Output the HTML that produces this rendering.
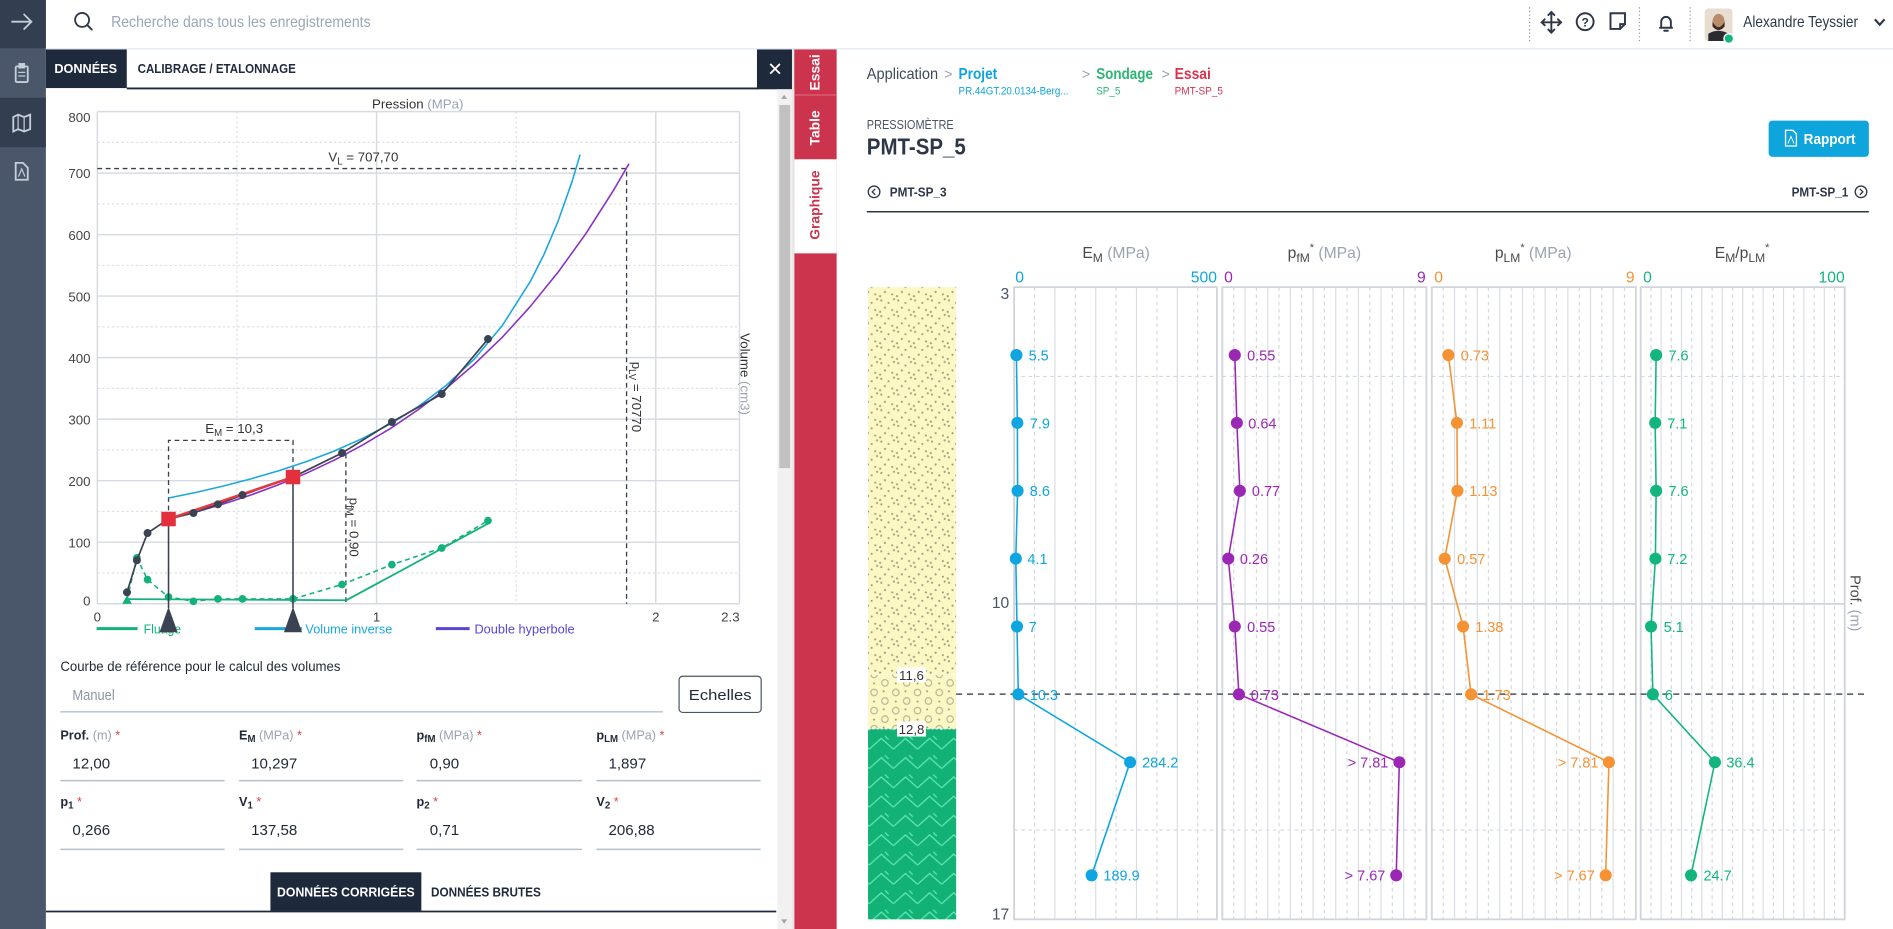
<!DOCTYPE html>
<html><head><meta charset="utf-8"><style>
html,body{margin:0;padding:0;width:1893px;height:929px;overflow:hidden;background:#fff}
svg{display:block}
</style></head><body>
<svg xmlns="http://www.w3.org/2000/svg" width="1893" height="929" viewBox="0 0 1568 770" preserveAspectRatio="none" font-family="'Liberation Sans', Arial, sans-serif">
<defs>
<pattern id="sand" width="14" height="13" patternUnits="userSpaceOnUse">
<rect width="14" height="13" fill="#fcf8c4"/>
<g fill="#a19f83"><circle cx="2" cy="2" r="0.9"/><circle cx="8" cy="4" r="0.9"/><circle cx="12.5" cy="1" r="0.9"/><circle cx="5" cy="8" r="0.9"/><circle cx="11" cy="10" r="0.9"/><circle cx="1" cy="11.5" r="0.9"/></g>
</pattern>
<pattern id="gravel" width="18" height="15" patternUnits="userSpaceOnUse">
<rect width="18" height="15" fill="#fcf8c4"/>
<g fill="none" stroke="#b3b095" stroke-width="0.9"><circle cx="4" cy="4" r="2.7"/><circle cx="13" cy="11" r="2.7"/></g>
<g fill="#a19f83"><circle cx="12" cy="3" r="0.85"/><circle cx="4" cy="11.5" r="0.85"/></g>
</pattern>
<pattern id="grn" width="20" height="16" patternUnits="userSpaceOnUse">
<rect width="20" height="16" fill="#12b277"/>
<polyline points="0,13 10,4 20,13" fill="none" stroke="#62e6b8" stroke-width="1"/>
<line x1="13" y1="2" x2="16" y2="5" stroke="#62e6b8" stroke-width="1"/>
</pattern>
</defs>

<rect x="0" y="0" width="1568" height="770" fill="#fff"/>

<!-- Sidebar -->
<rect x="0" y="0" width="38" height="770" fill="#4a566a"/>
<rect x="0" y="0" width="38" height="40" fill="#333f50"/>
<rect x="0" y="81" width="38" height="41" fill="#333f50"/>
<g stroke="#c6ced9" stroke-width="1.5" fill="none" stroke-linecap="round">
<line x1="10" y1="18" x2="26" y2="18"/><polyline points="20,12 26,18 20,24"/>
<rect x="13" y="55" width="10" height="13" rx="1"/><rect x="16" y="53" width="4" height="3" fill="#c6ced9"/>
<line x1="15.5" y1="60" x2="20.5" y2="60" stroke-width="1"/><line x1="15.5" y1="63" x2="20.5" y2="63" stroke-width="1"/>
<polygon points="11,97 15,95 20,97 25,95 25,107 20,109 15,107 11,109"/><line x1="15" y1="95" x2="15" y2="107" stroke-width="1"/><line x1="20" y1="97" x2="20" y2="109" stroke-width="1"/>
<path d="M13 135 h6 l4 4 v10 h-10 z"/><path d="M15.5 146 l2.5-6 l2.5 6" stroke-width="1"/>
</g>

<!-- Top bar -->
<line x1="38" y1="40.5" x2="1568" y2="40.5" stroke="#e2e8f0" stroke-width="1"/>
<circle cx="68" cy="16.5" r="5.8" fill="none" stroke="#2d3748" stroke-width="1.5"/>
<line x1="72.3" y1="20.8" x2="76" y2="24.5" stroke="#2d3748" stroke-width="1.6" stroke-linecap="round"/>
<text x="92" y="22.5" font-size="13" fill="#9ba6b7" textLength="215" lengthAdjust="spacingAndGlyphs">Recherche dans tous les enregistrements</text>
<g stroke="#8a94a6" stroke-width="1" stroke-dasharray="1,2">
<line x1="1267" y1="6" x2="1267" y2="34"/><line x1="1358" y1="6" x2="1358" y2="34"/><line x1="1400" y1="6" x2="1400" y2="34"/>
</g>
<g stroke="#2d3748" stroke-width="1.6" fill="none" stroke-linecap="round">
<line x1="1285" y1="10" x2="1285" y2="27"/><line x1="1277" y1="18.5" x2="1293" y2="18.5"/>
<polyline points="1282.5,12.5 1285,10 1287.5,12.5"/><polyline points="1282.5,24.5 1285,27 1287.5,24.5"/>
<polyline points="1279.5,16 1277,18.5 1279.5,21"/><polyline points="1290.5,16 1293,18.5 1290.5,21"/>
<circle cx="1313" cy="18" r="7"/>
<path d="M1334 11 h12 v9 l-4 4 h-8 z"/><path d="M1346 20 h-4 v4"/>
<path d="M1375 23 h10 M1376 23 v-5 a4 4 0 0 1 8 0 v5 M1378.5 25.5 h3"/>
</g>
<text x="1313" y="22" font-size="10" font-weight="bold" fill="#2d3748" text-anchor="middle">?</text>
<rect x="1412" y="7" width="23" height="27" rx="3" fill="#e7ddd0"/>
<path d="M1415 34 v-6 q8-5 17 0 v6 z" fill="#2a2a30"/>
<ellipse cx="1423.5" cy="18" rx="5" ry="6.5" fill="#b98c6a"/>
<path d="M1418.5 18 q5 9 10 0 v4 q-5 6-10 0 z" fill="#3a2a20"/>
<circle cx="1432" cy="32" r="4" fill="#12b57e" stroke="#fff" stroke-width="1.2"/>
<text x="1444" y="22.5" font-size="13" fill="#2d3748" textLength="95" lengthAdjust="spacingAndGlyphs">Alexandre Teyssier</text>
<polyline points="1553,16 1557,20.5 1561,16" fill="none" stroke="#2d3748" stroke-width="1.8"/>

<!-- Left panel tabs -->
<rect x="38" y="41" width="67" height="32" fill="#1e293b"/>
<text x="45" y="60.5" font-size="11" font-weight="bold" fill="#fff" textLength="52" lengthAdjust="spacingAndGlyphs">DONNÉES</text>
<text x="114" y="60.5" font-size="11" font-weight="bold" fill="#1e293b" textLength="131" lengthAdjust="spacingAndGlyphs">CALIBRAGE / ETALONNAGE</text>
<line x1="105" y1="73.3" x2="628" y2="73.3" stroke="#1e293b" stroke-width="1.5"/>
<rect x="627" y="41" width="31" height="33" fill="#1e293b"/>
<g stroke="#fff" stroke-width="1.5"><line x1="638" y1="53" x2="646" y2="61"/><line x1="646" y1="53" x2="638" y2="61"/></g>

<!-- scrollbar -->
<rect x="644" y="74" width="12" height="696" fill="#f1f1f1"/>
<rect x="645.5" y="87" width="9" height="301" fill="#c1c1c1"/>
<polygon points="647,82 652,82 649.5,78.5" fill="#a3a3a3"/>
<polygon points="647,762 652,762 649.5,765.5" fill="#a3a3a3"/>
<rect x="656" y="41" width="2" height="729" fill="#e8e8e8"/>

<!-- Red side tabs -->
<rect x="658" y="41" width="35" height="729" fill="#cc344d"/>
<rect x="658" y="78" width="35" height="1.5" fill="#d8556b"/>
<rect x="658" y="132" width="35" height="78" fill="#fff"/>
<text transform="translate(679,60) rotate(-90)" font-size="11.5" font-weight="bold" fill="#fff" text-anchor="middle">Essai</text>
<text transform="translate(679,106) rotate(-90)" font-size="11.5" font-weight="bold" fill="#fff" text-anchor="middle">Table</text>
<text transform="translate(679,170) rotate(-90)" font-size="11.5" font-weight="bold" fill="#cc344d" text-anchor="middle">Graphique</text>

<!-- ===== Left chart ===== -->
<g stroke="#dde1e7" stroke-width="1" stroke-dasharray="2,2">
<line x1="80.6" y1="474.9" x2="612.5" y2="474.9"/><line x1="80.6" y1="423.9" x2="612.5" y2="423.9"/>
<line x1="80.6" y1="372.9" x2="612.5" y2="372.9"/><line x1="80.6" y1="321.9" x2="612.5" y2="321.9"/>
<line x1="80.6" y1="270.9" x2="612.5" y2="270.9"/><line x1="80.6" y1="220" x2="612.5" y2="220"/>
<line x1="80.6" y1="169" x2="612.5" y2="169"/><line x1="80.6" y1="118" x2="612.5" y2="118"/>
<line x1="196.3" y1="92.5" x2="196.3" y2="500.4"/><line x1="427.6" y1="92.5" x2="427.6" y2="500.4"/>
</g>
<g stroke="#d6dae1" stroke-width="1.2">
<line x1="80.6" y1="449.4" x2="612.5" y2="449.4"/><line x1="80.6" y1="398.4" x2="612.5" y2="398.4"/>
<line x1="80.6" y1="347.4" x2="612.5" y2="347.4"/><line x1="80.6" y1="296.4" x2="612.5" y2="296.4"/>
<line x1="80.6" y1="245.4" x2="612.5" y2="245.4"/><line x1="80.6" y1="194.5" x2="612.5" y2="194.5"/>
<line x1="80.6" y1="143.5" x2="612.5" y2="143.5"/><line x1="80.6" y1="92.5" x2="612.5" y2="92.5"/>
<line x1="80.6" y1="500.4" x2="612.5" y2="500.4"/>
<line x1="80.6" y1="92.5" x2="80.6" y2="500.4"/><line x1="311.9" y1="92.5" x2="311.9" y2="500.4"/>
<line x1="543.2" y1="92.5" x2="543.2" y2="500.4"/><line x1="612.5" y1="92.5" x2="612.5" y2="500.4"/>
</g>
<g font-size="11" fill="#444" text-anchor="end">
<text x="75" y="101">800</text><text x="75" y="147.5">700</text><text x="75" y="199">600</text>
<text x="75" y="250">500</text><text x="75" y="301">400</text><text x="75" y="352">300</text>
<text x="75" y="403">200</text><text x="75" y="454">100</text><text x="75" y="502">0</text>
</g>
<g font-size="11" fill="#444" text-anchor="middle">
<text x="80.6" y="515">0</text><text x="311.9" y="515">1</text><text x="543.2" y="515">2</text><text x="605" y="515">2.3</text>
</g>
<text x="346" y="90" font-size="11" fill="#333" text-anchor="middle">Pression<tspan fill="#9aa3b2"> (MPa)</tspan></text>
<text transform="translate(613.5,310) rotate(90)" font-size="11" fill="#333" text-anchor="middle">Volume<tspan fill="#9aa3b2"> (cm3)</tspan></text>

<!-- annotation dashed -->
<g stroke="#3a3f4a" stroke-width="1.1" stroke-dasharray="4,3" fill="none">
<polyline points="80.6,139.7 519,139.7 519,500.4"/>
<polyline points="139.6,430 139.6,365 242.7,365 242.7,395"/>
<line x1="286.5" y1="376" x2="286.5" y2="500.4"/>
</g>
<text x="272" y="134" font-size="11" fill="#333">V<tspan dy="2.5" font-size="8">L</tspan><tspan dy="-2.5"> = 707,70</tspan></text>
<text x="170" y="359" font-size="11" fill="#333">E<tspan dy="2.5" font-size="8">M</tspan><tspan dy="-2.5"> = 10,3</tspan></text>
<text transform="translate(523.5,329) rotate(90)" font-size="11" fill="#333" text-anchor="middle">p<tspan dy="2.5" font-size="8">LV</tspan><tspan dy="-2.5"> = 70770</tspan></text>
<text transform="translate(289.5,437) rotate(90)" font-size="11" fill="#333" text-anchor="middle">p<tspan dy="2.5" font-size="8">fM</tspan><tspan dy="-2.5"> = 0,90</tspan></text>

<!-- green fluage -->
<polyline points="105.2,496.6 286.9,497.5 406,433" fill="none" stroke="#14b27a" stroke-width="1.5"/>
<polyline points="105.2,497 113.4,462.4 122.2,480.4 139.6,494.8 160.2,498.4 180.5,496.4 200.8,496.4 242.7,496.4 283.3,484.5 324.6,468 365.9,454.2 404.2,431.5" fill="none" stroke="#14b27a" stroke-width="1.3" stroke-dasharray="4,3"/>
<polygon points="101.2,500.5 105.2,493.5 109.2,500.5" fill="#14b27a"/>
<g fill="#14b27a">
<circle cx="113.4" cy="462.4" r="3.2"/><circle cx="122.2" cy="480.4" r="3.2"/><circle cx="139.6" cy="494.8" r="3.2"/>
<circle cx="160.2" cy="498.4" r="3.2"/><circle cx="180.5" cy="496.4" r="3.2"/><circle cx="200.8" cy="496.4" r="3.2"/>
<circle cx="242.7" cy="496.4" r="3.2"/><circle cx="283.3" cy="484.5" r="3.2"/><circle cx="324.6" cy="468" r="3.2"/>
<circle cx="365.9" cy="454.2" r="3.2"/><circle cx="404.2" cy="431.5" r="3.2"/>
</g>

<!-- blue volume inverse -->
<polyline points="139.6,412.8 161.6,408.3 184.7,402.9 207.8,396.9 230.9,390.2 254.1,382.5 277.2,373.7 300.3,363.4 323.5,351.3 346.6,336.9 369.7,319.3 392.9,297.6 416,269.9 439.1,233.6 450.7,210.7 462.2,183.5 473.8,150.7 480.5,128.2" fill="none" stroke="#1aa7e0" stroke-width="1.3" stroke-linejoin="round"/>
<!-- purple double hyperbole -->
<polyline points="139.6,430.2 161.6,424.6 184.7,417.8 207.8,410.3 230.9,401.7 254.1,392.1 277.2,381.2 300.3,368.9 323.5,355.1 346.6,339.4 369.7,321.8 392.9,301.9 416,279.6 439.1,254.2 462.2,225.7 485.4,193.5 508.5,157.2 521,135.7" fill="none" stroke="#8a2ec4" stroke-width="1.3" stroke-linejoin="round"/>
<!-- black data -->
<polyline points="105.2,490.9 113.4,464.4 122.2,441.8 139.6,430.2 160.2,425.2 180.5,418 200.8,410.3 242.7,395.4 283.3,375.5 324.6,349.8 365.9,326.6 404.2,281" fill="none" stroke="#3b4252" stroke-width="1.4"/>
<line x1="139.6" y1="430.2" x2="242.7" y2="395.4" stroke="#e5373f" stroke-width="2"/>
<g fill="#3b4252">
<circle cx="105.2" cy="490.9" r="3.3"/><circle cx="113.4" cy="464.4" r="3.3"/><circle cx="122.2" cy="441.8" r="3.3"/>
<circle cx="160.2" cy="425.2" r="3.3"/><circle cx="180.5" cy="418" r="3.3"/><circle cx="200.8" cy="410.3" r="3.3"/>
<circle cx="283.3" cy="375.5" r="3.3"/><circle cx="324.6" cy="349.8" r="3.3"/><circle cx="365.9" cy="326.6" r="3.3"/>
<circle cx="404.2" cy="281" r="3.3"/>
</g>
<g stroke="#3b4252" stroke-width="1.3"><line x1="139.6" y1="430" x2="139.6" y2="504"/><line x1="242.7" y1="395" x2="242.7" y2="504"/></g>
<rect x="133.6" y="424.2" width="12" height="12" fill="#e3303c"/>
<rect x="236.7" y="389.4" width="12" height="12" fill="#e3303c"/>

<!-- legend -->
<line x1="80" y1="521" x2="114" y2="521" stroke="#14b27a" stroke-width="2.5"/>
<text x="119" y="525" font-size="11" fill="#14b27a" textLength="31" lengthAdjust="spacingAndGlyphs">Fluage</text>
<line x1="211" y1="521" x2="250" y2="521" stroke="#1aa7e0" stroke-width="2.5"/>
<text x="253" y="525" font-size="11" fill="#1aa7e0" textLength="72" lengthAdjust="spacingAndGlyphs">Volume inverse</text>
<line x1="361" y1="521" x2="389" y2="521" stroke="#5a46d6" stroke-width="2.5"/>
<text x="393" y="525" font-size="11" fill="#5a46d6" textLength="83" lengthAdjust="spacingAndGlyphs">Double hyperbole</text>
<polygon points="139.6,503 132.1,524 147.1,524" fill="#3b4252"/>
<polygon points="242.7,503 235.2,524 250.2,524" fill="#3b4252"/>

<!-- form -->
<text x="50" y="556" font-size="11.5" fill="#1f2937" textLength="232" lengthAdjust="spacingAndGlyphs">Courbe de référence pour le calcul des volumes</text>
<text x="60" y="580" font-size="12.5" fill="#8c96a4" textLength="35" lengthAdjust="spacingAndGlyphs">Manuel</text>
<line x1="50" y1="590" x2="549" y2="590" stroke="#b4bfcc" stroke-width="1.2"/>
<rect x="562.5" y="560.5" width="68" height="30" rx="3" fill="#fff" stroke="#4a5568" stroke-width="1"/>
<text x="596.5" y="580" font-size="12.5" fill="#1f2937" text-anchor="middle" textLength="52" lengthAdjust="spacingAndGlyphs">Echelles</text>

<g font-size="10.5" fill="#1f2937">
<text x="50" y="613"><tspan font-weight="bold">Prof.</tspan><tspan fill="#9aa3b2"> (m)</tspan><tspan fill="#e53e3e"> *</tspan></text>
<text x="198" y="613"><tspan font-weight="bold">E</tspan><tspan font-weight="bold" font-size="8" dy="2">M</tspan><tspan fill="#9aa3b2" dy="-2"> (MPa)</tspan><tspan fill="#e53e3e"> *</tspan></text>
<text x="345" y="613"><tspan font-weight="bold">p</tspan><tspan font-weight="bold" font-size="8" dy="2">fM</tspan><tspan fill="#9aa3b2" dy="-2"> (MPa)</tspan><tspan fill="#e53e3e"> *</tspan></text>
<text x="494" y="613"><tspan font-weight="bold">p</tspan><tspan font-weight="bold" font-size="8" dy="2">LM</tspan><tspan fill="#9aa3b2" dy="-2"> (MPa)</tspan><tspan fill="#e53e3e"> *</tspan></text>
<text x="50" y="668"><tspan font-weight="bold">p</tspan><tspan font-weight="bold" font-size="8" dy="2">1</tspan><tspan fill="#e53e3e" dy="-2"> *</tspan></text>
<text x="198" y="668"><tspan font-weight="bold">V</tspan><tspan font-weight="bold" font-size="8" dy="2">1</tspan><tspan fill="#e53e3e" dy="-2"> *</tspan></text>
<text x="345" y="668"><tspan font-weight="bold">p</tspan><tspan font-weight="bold" font-size="8" dy="2">2</tspan><tspan fill="#e53e3e" dy="-2"> *</tspan></text>
<text x="494" y="668"><tspan font-weight="bold">V</tspan><tspan font-weight="bold" font-size="8" dy="2">2</tspan><tspan fill="#e53e3e" dy="-2"> *</tspan></text>
</g>
<g font-size="12.5" fill="#1f2937">
<text x="60" y="637">12,00</text><text x="208" y="637">10,297</text><text x="356" y="637">0,90</text><text x="504" y="637">1,897</text>
<text x="60" y="692">0,266</text><text x="208" y="692">137,58</text><text x="356" y="692">0,71</text><text x="504" y="692">206,88</text>
</g>
<g stroke="#b4bfcc" stroke-width="1.2">
<line x1="50" y1="647" x2="186" y2="647"/><line x1="198" y1="647" x2="334" y2="647"/><line x1="345" y1="647" x2="482" y2="647"/><line x1="494" y1="647" x2="630" y2="647"/>
<line x1="50" y1="704" x2="186" y2="704"/><line x1="198" y1="704" x2="334" y2="704"/><line x1="345" y1="704" x2="482" y2="704"/><line x1="494" y1="704" x2="630" y2="704"/>
</g>
<rect x="224" y="723" width="125" height="32" fill="#1e293b"/>
<text x="286.5" y="743" font-size="10.5" font-weight="bold" fill="#fff" text-anchor="middle" textLength="114" lengthAdjust="spacingAndGlyphs">DONNÉES CORRIGÉES</text>
<text x="357" y="743" font-size="10.5" font-weight="bold" fill="#1e293b" textLength="91" lengthAdjust="spacingAndGlyphs">DONNÉES BRUTES</text>
<line x1="38" y1="755.5" x2="643" y2="755.5" stroke="#1e293b" stroke-width="1.5"/>

<!-- ===== Right content ===== -->
<text x="718" y="65.5" font-size="13" fill="#3d4a5c" textLength="59" lengthAdjust="spacingAndGlyphs">Application</text>
<text x="782" y="65.5" font-size="12" fill="#9aa3b2">&gt;</text>
<text x="794" y="65.5" font-size="13" font-weight="bold" fill="#0ea5dd" textLength="32" lengthAdjust="spacingAndGlyphs">Projet</text>
<text x="794" y="78.5" font-size="9.5" fill="#0ea5dd" textLength="91" lengthAdjust="spacingAndGlyphs">PR.44GT.20.0134-Berg...</text>
<text x="896" y="65.5" font-size="12" fill="#9aa3b2">&gt;</text>
<text x="908" y="65.5" font-size="13" font-weight="bold" fill="#2bb673" textLength="47" lengthAdjust="spacingAndGlyphs">Sondage</text>
<text x="908" y="78.5" font-size="9.5" fill="#2bb673" textLength="20" lengthAdjust="spacingAndGlyphs">SP_5</text>
<text x="962" y="65.5" font-size="12" fill="#9aa3b2">&gt;</text>
<text x="973" y="65.5" font-size="13" font-weight="bold" fill="#d8344e" textLength="30" lengthAdjust="spacingAndGlyphs">Essai</text>
<text x="973" y="78.5" font-size="9.5" fill="#d8344e" textLength="40" lengthAdjust="spacingAndGlyphs">PMT-SP_5</text>

<text x="718" y="107" font-size="10.5" fill="#4a5568" textLength="72" lengthAdjust="spacingAndGlyphs">PRESSIOMÈTRE</text>
<text x="718" y="128" font-size="19" font-weight="bold" fill="#2d3748" textLength="82" lengthAdjust="spacingAndGlyphs">PMT-SP_5</text>

<rect x="1465" y="100" width="83" height="30" rx="3" fill="#0ea5dc"/>
<path d="M1479 108 h6 l3 3 v10 h-9 z" fill="none" stroke="#fff" stroke-width="1.1"/>
<path d="M1481 119 l2.5-6 l2.5 6" fill="none" stroke="#fff" stroke-width="0.8"/>
<text x="1494" y="119.5" font-size="12.5" font-weight="bold" fill="#fff" textLength="43" lengthAdjust="spacingAndGlyphs">Rapport</text>

<circle cx="724" cy="159" r="4.8" fill="none" stroke="#2d3748" stroke-width="1.1"/>
<polyline points="725,156.5 722.5,159 725,161.5" fill="none" stroke="#2d3748" stroke-width="1.1"/>
<text x="737" y="163" font-size="10.5" font-weight="bold" fill="#2d3748" textLength="47" lengthAdjust="spacingAndGlyphs">PMT-SP_3</text>
<text x="1531" y="163" font-size="10.5" font-weight="bold" fill="#2d3748" text-anchor="end" textLength="47" lengthAdjust="spacingAndGlyphs">PMT-SP_1</text>
<circle cx="1541.5" cy="159" r="4.8" fill="none" stroke="#2d3748" stroke-width="1.1"/>
<polyline points="1540.5,156.5 1543,159 1540.5,161.5" fill="none" stroke="#2d3748" stroke-width="1.1"/>
<line x1="718" y1="175.5" x2="1548" y2="175.5" stroke="#2d3748" stroke-width="1.3"/>

<!-- Column headers -->
<g font-size="13" fill="#4a4a4a" text-anchor="middle">
<text x="924.5" y="214">E<tspan dy="3" font-size="10">M</tspan><tspan dy="-3" fill="#9aa3b2"> (MPa)</tspan></text>
<text x="1097" y="214">p<tspan dy="3" font-size="10">fM</tspan><tspan dy="-9" font-size="9">*</tspan><tspan dy="6" fill="#9aa3b2"> (MPa)</tspan></text>
<text x="1270" y="214">p<tspan dy="3" font-size="10">LM</tspan><tspan dy="-9" font-size="9">*</tspan><tspan dy="6" fill="#9aa3b2"> (MPa)</tspan></text>
<text x="1443" y="214">E<tspan dy="3" font-size="10">M</tspan><tspan dy="-3">/p</tspan><tspan dy="3" font-size="10">LM</tspan><tspan dy="-9" font-size="9">*</tspan></text>
</g>
<g font-size="13">
<text x="841" y="234" fill="#0ea5e0">0</text><text x="1008" y="234" fill="#0ea5e0" text-anchor="end">500</text>
<text x="1014" y="234" fill="#9b27b5">0</text><text x="1181" y="234" fill="#9b27b5" text-anchor="end">9</text>
<text x="1188" y="234" fill="#f59234">0</text><text x="1354" y="234" fill="#f59234" text-anchor="end">9</text>
<text x="1361" y="234" fill="#12b57e">0</text><text x="1528" y="234" fill="#12b57e" text-anchor="end">100</text>
</g>

<!-- soil column -->
<rect x="719" y="238" width="73" height="321" fill="url(#sand)"/>
<rect x="719" y="559" width="73" height="45" fill="url(#gravel)"/>
<rect x="719" y="604" width="73" height="158" fill="url(#grn)"/>
<g stroke="#fff" stroke-width="1" stroke-dasharray="2,1.5"><line x1="719" y1="559" x2="792" y2="559"/><line x1="719" y1="604" x2="792" y2="604"/></g>
<rect x="743" y="553" width="24" height="12.5" fill="#fff"/>
<text x="755" y="563.5" font-size="11" fill="#333" text-anchor="middle">11,6</text>
<rect x="743" y="598" width="24" height="12.5" fill="#fff"/>
<text x="755" y="608.5" font-size="11" fill="#333" text-anchor="middle">12,8</text>

<g font-size="13" fill="#4a5568" text-anchor="end">
<text x="836" y="248">3</text><text x="836" y="504">10</text><text x="836" y="762">17</text>
</g>
<text transform="translate(1533,500) rotate(90)" font-size="12" fill="#4a4a4a" text-anchor="middle">Prof.<tspan fill="#9aa3b2"> (m)</tspan></text>

<!-- grid -->
<g stroke="#d3d7de" stroke-width="1" stroke-dasharray="3,3">
<line x1="856.9" y1="238" x2="856.9" y2="762"/><line x1="890.7" y1="238" x2="890.7" y2="762"/><line x1="924.5" y1="238" x2="924.5" y2="762"/><line x1="958.3" y1="238" x2="958.3" y2="762"/><line x1="992.1" y1="238" x2="992.1" y2="762"/>
<line x1="1021.9" y1="238" x2="1021.9" y2="762"/><line x1="1040.7" y1="238" x2="1040.7" y2="762"/><line x1="1059.4" y1="238" x2="1059.4" y2="762"/><line x1="1078.2" y1="238" x2="1078.2" y2="762"/><line x1="1097" y1="238" x2="1097" y2="762"/><line x1="1115.8" y1="238" x2="1115.8" y2="762"/><line x1="1134.6" y1="238" x2="1134.6" y2="762"/><line x1="1153.3" y1="238" x2="1153.3" y2="762"/><line x1="1172.1" y1="238" x2="1172.1" y2="762"/>
<line x1="1195.4" y1="238" x2="1195.4" y2="762"/><line x1="1214.2" y1="238" x2="1214.2" y2="762"/><line x1="1232.9" y1="238" x2="1232.9" y2="762"/><line x1="1251.7" y1="238" x2="1251.7" y2="762"/><line x1="1270.5" y1="238" x2="1270.5" y2="762"/><line x1="1289.3" y1="238" x2="1289.3" y2="762"/><line x1="1308.1" y1="238" x2="1308.1" y2="762"/><line x1="1326.8" y1="238" x2="1326.8" y2="762"/><line x1="1345.6" y1="238" x2="1345.6" y2="762"/>
<line x1="1367.5" y1="238" x2="1367.5" y2="762"/><line x1="1384.4" y1="238" x2="1384.4" y2="762"/><line x1="1401.3" y1="238" x2="1401.3" y2="762"/><line x1="1418.2" y1="238" x2="1418.2" y2="762"/><line x1="1435.1" y1="238" x2="1435.1" y2="762"/><line x1="1452" y1="238" x2="1452" y2="762"/><line x1="1468.9" y1="238" x2="1468.9" y2="762"/><line x1="1485.8" y1="238" x2="1485.8" y2="762"/><line x1="1502.7" y1="238" x2="1502.7" y2="762"/><line x1="1519.6" y1="238" x2="1519.6" y2="762"/>
<line x1="840" y1="312" x2="1008" y2="312"/><line x1="1012.5" y1="312" x2="1181.5" y2="312"/><line x1="1186" y1="312" x2="1355" y2="312"/><line x1="1359" y1="312" x2="1528" y2="312"/>
<line x1="840" y1="688" x2="1008" y2="688"/><line x1="1012.5" y1="688" x2="1181.5" y2="688"/><line x1="1186" y1="688" x2="1355" y2="688"/><line x1="1359" y1="688" x2="1528" y2="688"/>
</g>
<g stroke="#dadee4" stroke-width="1">
<line x1="873.8" y1="238" x2="873.8" y2="762"/><line x1="907.6" y1="238" x2="907.6" y2="762"/><line x1="941.4" y1="238" x2="941.4" y2="762"/><line x1="975.2" y1="238" x2="975.2" y2="762"/>
<line x1="1031.3" y1="238" x2="1031.3" y2="762"/><line x1="1050.1" y1="238" x2="1050.1" y2="762"/><line x1="1068.8" y1="238" x2="1068.8" y2="762"/><line x1="1087.6" y1="238" x2="1087.6" y2="762"/><line x1="1106.4" y1="238" x2="1106.4" y2="762"/><line x1="1125.2" y1="238" x2="1125.2" y2="762"/><line x1="1143.9" y1="238" x2="1143.9" y2="762"/><line x1="1162.7" y1="238" x2="1162.7" y2="762"/>
<line x1="1204.8" y1="238" x2="1204.8" y2="762"/><line x1="1223.6" y1="238" x2="1223.6" y2="762"/><line x1="1242.3" y1="238" x2="1242.3" y2="762"/><line x1="1261.1" y1="238" x2="1261.1" y2="762"/><line x1="1279.9" y1="238" x2="1279.9" y2="762"/><line x1="1298.7" y1="238" x2="1298.7" y2="762"/><line x1="1317.4" y1="238" x2="1317.4" y2="762"/><line x1="1336.2" y1="238" x2="1336.2" y2="762"/>
<line x1="1375.9" y1="238" x2="1375.9" y2="762"/><line x1="1392.8" y1="238" x2="1392.8" y2="762"/><line x1="1409.7" y1="238" x2="1409.7" y2="762"/><line x1="1426.6" y1="238" x2="1426.6" y2="762"/><line x1="1443.5" y1="238" x2="1443.5" y2="762"/><line x1="1460.4" y1="238" x2="1460.4" y2="762"/><line x1="1477.3" y1="238" x2="1477.3" y2="762"/><line x1="1494.2" y1="238" x2="1494.2" y2="762"/><line x1="1511.1" y1="238" x2="1511.1" y2="762"/>
</g>
<g stroke="#d0d4db" stroke-width="1.5" fill="none">
<rect x="840" y="238" width="168" height="524"/>
<rect x="1012.5" y="238" width="169" height="524"/>
<rect x="1186" y="238" width="169" height="524"/>
<rect x="1359" y="238" width="169" height="524"/>
<line x1="840" y1="500.5" x2="1008" y2="500.5"/><line x1="1012.5" y1="500.5" x2="1181.5" y2="500.5"/><line x1="1186" y1="500.5" x2="1355" y2="500.5"/><line x1="1359" y1="500.5" x2="1528" y2="500.5"/>
</g>
<line x1="792" y1="575.3" x2="1548" y2="575.3" stroke="#4a5060" stroke-width="1.2" stroke-dasharray="5,4"/>

<!-- series E_M -->
<g fill="#0ea5e0" stroke="#0ea5e0">
<polyline points="841.9,294.3 842.7,350.5 842.9,406.8 841.4,463 842.4,519.3 843.5,575.5 936.1,631.8 904.2,725.5" fill="none" stroke-width="1.3"/>
<g stroke="none"><circle cx="841.9" cy="294.3" r="5"/><circle cx="842.7" cy="350.5" r="5"/><circle cx="842.9" cy="406.8" r="5"/><circle cx="841.4" cy="463" r="5"/><circle cx="842.4" cy="519.3" r="5"/><circle cx="843.5" cy="575.5" r="5"/><circle cx="936.1" cy="631.8" r="5"/><circle cx="904.2" cy="725.5" r="5"/></g>
<g stroke="none" font-size="12">
<text x="852" y="299">5.5</text><text x="853" y="355">7.9</text><text x="853" y="411">8.6</text><text x="851" y="467.5">4.1</text><text x="852" y="524">7</text><text x="853" y="580">10.3</text><text x="946" y="636">284.2</text><text x="914" y="730">189.9</text>
</g></g>
<!-- series p_fM -->
<g fill="#9b27b5" stroke="#9b27b5">
<polyline points="1022.8,294.3 1024.5,350.5 1027,406.8 1017.4,463 1022.8,519.3 1026.2,575.5 1159.1,631.8 1156.5,725.5" fill="none" stroke-width="1.3"/>
<g stroke="none"><circle cx="1022.8" cy="294.3" r="5"/><circle cx="1024.5" cy="350.5" r="5"/><circle cx="1027" cy="406.8" r="5"/><circle cx="1017.4" cy="463" r="5"/><circle cx="1022.8" cy="519.3" r="5"/><circle cx="1026.2" cy="575.5" r="5"/><circle cx="1159.1" cy="631.8" r="5"/><circle cx="1156.5" cy="725.5" r="5"/></g>
<g stroke="none" font-size="12">
<text x="1033" y="299">0.55</text><text x="1034" y="355">0.64</text><text x="1037" y="411">0.77</text><text x="1027" y="467.5">0.26</text><text x="1033" y="524">0.55</text><text x="1036" y="580">0.73</text>
<text x="1150" y="636" text-anchor="end">&gt; 7.81</text><text x="1147.5" y="730" text-anchor="end">&gt; 7.67</text>
</g></g>
<!-- series p_LM -->
<g fill="#f59234" stroke="#f59234">
<polyline points="1199.7,294.3 1206.8,350.5 1207.2,406.8 1196.7,463 1211.9,519.3 1218.5,575.5 1332.7,631.8 1330,725.5" fill="none" stroke-width="1.3"/>
<g stroke="none"><circle cx="1199.7" cy="294.3" r="5"/><circle cx="1206.8" cy="350.5" r="5"/><circle cx="1207.2" cy="406.8" r="5"/><circle cx="1196.7" cy="463" r="5"/><circle cx="1211.9" cy="519.3" r="5"/><circle cx="1218.5" cy="575.5" r="5"/><circle cx="1332.7" cy="631.8" r="5"/><circle cx="1330" cy="725.5" r="5"/></g>
<g stroke="none" font-size="12">
<text x="1210" y="299">0.73</text><text x="1217" y="355">1.11</text><text x="1217" y="411">1.13</text><text x="1207" y="467.5">0.57</text><text x="1222" y="524">1.38</text><text x="1228" y="580">1.73</text>
<text x="1324" y="636" text-anchor="end">&gt; 7.81</text><text x="1321" y="730" text-anchor="end">&gt; 7.67</text>
</g></g>
<!-- series EM/pLM -->
<g fill="#12b57e" stroke="#12b57e">
<polyline points="1371.8,294.3 1371,350.5 1371.8,406.8 1371.2,463 1367.6,519.3 1369.1,575.5 1420.5,631.8 1400.7,725.5" fill="none" stroke-width="1.3"/>
<g stroke="none"><circle cx="1371.8" cy="294.3" r="5"/><circle cx="1371" cy="350.5" r="5"/><circle cx="1371.8" cy="406.8" r="5"/><circle cx="1371.2" cy="463" r="5"/><circle cx="1367.6" cy="519.3" r="5"/><circle cx="1369.1" cy="575.5" r="5"/><circle cx="1420.5" cy="631.8" r="5"/><circle cx="1400.7" cy="725.5" r="5"/></g>
<g stroke="none" font-size="12">
<text x="1382" y="299">7.6</text><text x="1381" y="355">7.1</text><text x="1382" y="411">7.6</text><text x="1381" y="467.5">7.2</text><text x="1378" y="524">5.1</text><text x="1379" y="580">6</text><text x="1430" y="636">36.4</text><text x="1411" y="730">24.7</text>
</g></g>
</svg>
</body></html>
